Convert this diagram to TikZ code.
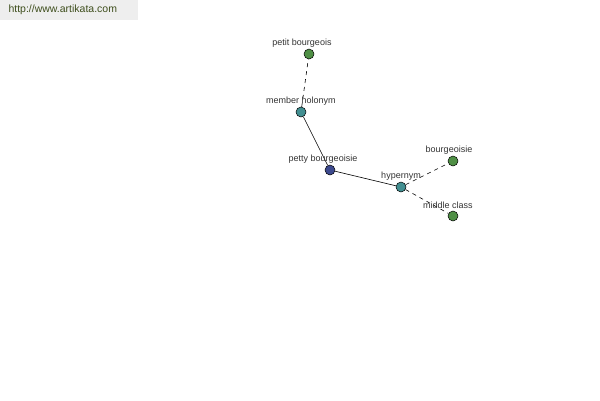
\documentclass[tikz,border=0pt]{standalone}
\usepackage{fontspec}
\setmainfont{Liberation Sans}
\usetikzlibrary{positioning,backgrounds}
\definecolor{wnleaf}{HTML}{4F8F45}
\definecolor{wnrel}{HTML}{428F91}
\definecolor{wnroot}{HTML}{3D4A8E}
\definecolor{wntext}{HTML}{333333}
\definecolor{wnhead}{HTML}{EEEEEE}
\definecolor{wnlink}{HTML}{3E4E1C}

\begin{document}
\begin{tikzpicture}[x=1pt,y=-1pt,
  dot/.style={circle,draw=black,line width=0.5pt,inner sep=0pt,minimum size=10pt},
  lbl/.style={font=\fontsize{9}{10}\selectfont,text=wntext,inner sep=0.5pt},
  rel/.style={black,line width=0.6pt},
  relx/.style={rel,dashed,dash pattern=on 4pt off 4pt}
]
\useasboundingbox (0,0) rectangle (600,400);
\fill[wnhead] (0,0) rectangle (138,20);
\node[font=\fontsize{10.5}{11}\selectfont,text=wnlink,anchor=west] (site) at (5,10) {http://www.artikata.com};

% synsets
\node[dot,fill=wnroot] (petty) at (330,170) {};
\node[dot,fill=wnrel] (holo) at (301,112) {};
\node[dot,fill=wnleaf] (petit) at (309,54) {};
\node[dot,fill=wnrel] (hyper) at (401,187) {};
\node[dot,fill=wnleaf] (bourg) at (453,161) {};
\node[dot,fill=wnleaf] (middle) at (453,216) {};

\node[lbl,above=1pt of petty,xshift=-7pt] (pettyl) {petty bourgeoisie};
\node[lbl,above=1pt of holo] (holol) {member holonym};
\node[lbl,above=1pt of petit,xshift=-7pt] (petitl) {petit bourgeois};
\node[lbl,above=1pt of hyper] (hyperl) {hypernym};
\node[lbl,above=1pt of bourg,xshift=-4pt] (bourgl) {bourgeoisie};
\node[lbl,above=1pt of middle,xshift=-5pt] (middlel) {middle class};

\begin{scope}[on background layer]
\draw[rel] (petty) -- (holo);
\draw[rel] (petty) -- (hyper);
\draw[relx] (holo) -- (petit);
\draw[relx] (hyper) -- (bourg);
\draw[relx] (hyper) -- (middle);
\end{scope}
\end{tikzpicture}
\end{document}
